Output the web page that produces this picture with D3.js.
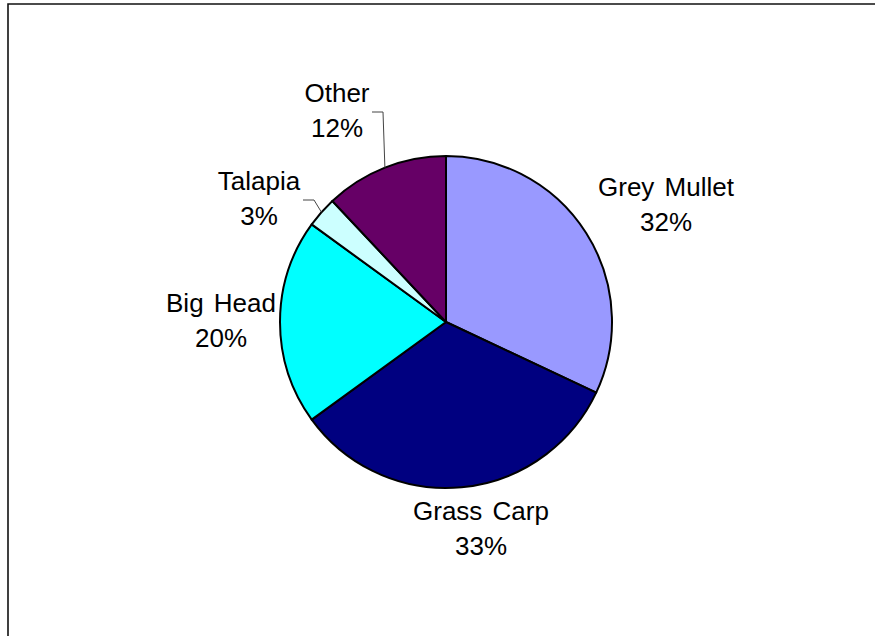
<!DOCTYPE html>
<html>
<head>
<meta charset="utf-8">
<script src="https://cdn.jsdelivr.net/npm/d3@7"></script>
<style>
  html, body { margin: 0; padding: 0; background: #fff; }
  svg { display: block; }
  text { font-family: "Liberation Sans", Arial, sans-serif; }
</style>
</head>
<body>
<svg id="chart" width="875" height="636"></svg>
<script>
// Share of species, in percent, clockwise from 12 o'clock
const species = ["Grey Mullet", "Grass Carp", "Big Head", "Talapia", "Other"];
const shares  = [32, 33, 20, 3, 12];
const colors  = ["#9999FF", "#000080", "#00FFFF", "#CCFFFF", "#660066"];

// Label anchor points (text centre, first baseline) and which slices get a leader line
const labelPos = {
  "Grey Mullet": [666, 196],
  "Grass Carp":  [481, 520],
  "Big Head":    [221, 312],
  "Talapia":     [259, 190],
  "Other":       [337, 102]
};
const leaders = {
  "Talapia": [[303, 200], [314, 200]],
  "Other":   [[372, 112], [383, 112]]
};

const W = 875, H = 636;
const cx = 446, cy = 322, R = 166;
const fontSize = 26, lineGap = 34.5;

const svg = d3.select("#chart");

// outer frame (open on the right and bottom edges of the window)
svg.append("path")
  .attr("d", `M8,${H + 10} L8,4 L${W + 10},4`)
  .attr("fill", "none")
  .attr("stroke", "#111")
  .attr("stroke-width", 1.6);

const data = species.map((name, i) => ({ name, value: shares[i], color: colors[i] }));

const pie = d3.pie().value(d => d.value).sort(null);
const arcs = pie(data);
const arc = d3.arc().innerRadius(0).outerRadius(R);

const g = svg.append("g").attr("transform", `translate(${cx},${cy})`);

g.selectAll("path.slice")
  .data(arcs)
  .join("path")
  .attr("class", "slice")
  .attr("d", arc)
  .attr("fill", d => d.data.color)
  .attr("stroke", "#000")
  .attr("stroke-width", 2)
  .attr("stroke-linejoin", "round");

// leader lines from the label to the slice's outer edge
arcs.forEach(a => {
  const pts = leaders[a.data.name];
  if (!pts) return;
  const mid = (a.startAngle + a.endAngle) / 2;
  const edge = [cx + R * Math.sin(mid), cy - R * Math.cos(mid)];
  svg.append("polyline")
    .attr("points", [...pts, edge].map(p => p.join(",")).join(" "))
    .attr("fill", "none")
    .attr("stroke", "#444")
    .attr("stroke-width", 1);
});

// labels: name on the first line, percentage below
const labels = svg.selectAll("text.label")
  .data(arcs)
  .join("text")
  .attr("class", "label")
  .attr("text-anchor", "middle")
  .attr("font-size", fontSize)
  .attr("fill", "#000");

labels.append("tspan")
  .attr("x", d => labelPos[d.data.name][0])
  .attr("y", d => labelPos[d.data.name][1])
  .attr("word-spacing", 3)
  .text(d => d.data.name);

labels.append("tspan")
  .attr("x", d => labelPos[d.data.name][0])
  .attr("y", d => labelPos[d.data.name][1] + lineGap)
  .text(d => d3.format(".0%")(d.data.value / d3.sum(shares)));
</script>
</body>
</html>
